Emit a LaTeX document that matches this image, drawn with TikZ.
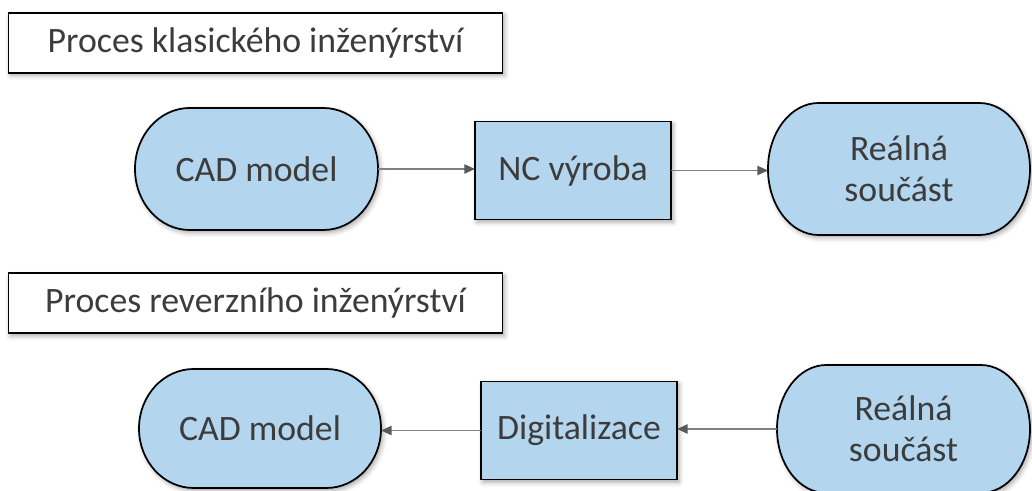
\documentclass[tikz,border=0pt]{standalone}
\usepackage{fontspec}
\setmainfont{Carlito}
\usetikzlibrary{arrows.meta,backgrounds,shadows.blur}

\definecolor{boxblue}{RGB}{179,213,237}
\definecolor{inkgray}{RGB}{60,60,60}
\definecolor{linkgray}{RGB}{128,128,128}
\definecolor{tipgray}{RGB}{90,90,90}

\tikzset{
  softshadow/.style={blur shadow={shadow xshift=1.5pt,shadow yshift=-2pt,
      shadow blur radius=3.5pt,shadow opacity=35}},
  labeltext/.style={font=\fontsize{26.8}{30.5}\selectfont, text=inkgray,
      inner sep=0pt, outer sep=0pt, align=center},
  titlebox/.style={labeltext, rectangle, draw=black, line width=1.3pt,
      fill=white, softshadow},
  stepbox/.style={labeltext, rectangle, draw=black, line width=1.3pt,
      fill=boxblue, softshadow},
  termtext/.style={labeltext, rectangle},
  termfill/.style={draw=black, line width=1.3pt, fill=boxblue, softshadow},
  link/.style={draw=linkgray, line width=1.1pt,
      -{Triangle[length=8pt,width=7pt,color=tipgray]}},
}

% terminator outline around a node: name, end radius x, end radius y
\newcommand\termoutline[3]{%
  \path[termfill] ([xshift=#2]#1.north west) -- ([xshift=-#2]#1.north east)
    arc[start angle=90,end angle=-90,x radius=#2,y radius=#3]
    -- ([xshift=#2]#1.south west)
    arc[start angle=270,end angle=90,x radius=#2,y radius=#3] -- cycle;}

\begin{document}
\begin{tikzpicture}[x=0.75pt,y=-0.75pt]
  \useasboundingbox (0,0) rectangle (1032,491);

  % classical engineering
  \node[titlebox, minimum width=370.5pt, minimum height=45pt] (t1) at (255.5,42.7)
    {Proces klasického inženýrství};
  \node[termtext, minimum width=182.25pt, minimum height=91.5pt] (cadA) at (256.5,169)
    {CAD model};
  \node[stepbox, minimum width=147pt, minimum height=73.5pt] (ncA) at (573,170.5)
    {NC výroba};
  \node[termtext, minimum width=196.5pt, minimum height=99pt] (partA) at (899,169)
    {Reálná\\součást};

  % reverse engineering
  \node[titlebox, minimum width=370.5pt, minimum height=45pt] (t2) at (255.5,303.3)
    {Proces reverzního inženýrství};
  \node[termtext, minimum width=181.5pt, minimum height=89.25pt] (cadB) at (260,428.5)
    {CAD model};
  \node[stepbox, minimum width=147pt, minimum height=73.5pt] (digB) at (579,430.5)
    {Digitalizace};
  \node[termtext, minimum width=189.75pt, minimum height=96pt] (partB) at (903.5,429)
    {Reálná\\součást};

  \begin{scope}[on background layer]
    \termoutline{cadA}{41pt}{45.75pt}
    \termoutline{partA}{38pt}{49.5pt}
    \termoutline{cadB}{41pt}{44.625pt}
    \termoutline{partB}{37pt}{48pt}
  \end{scope}

  % flow
  \draw[link] (cadA.east) -- (cadA.east -| ncA.west);
  \draw[link] (ncA.east) -- (ncA.east -| partA.west);
  \draw[link] (partB.west) -- (partB.west -| digB.east);
  \draw[link] (digB.west) -- (digB.west -| cadB.east);
\end{tikzpicture}
\end{document}
